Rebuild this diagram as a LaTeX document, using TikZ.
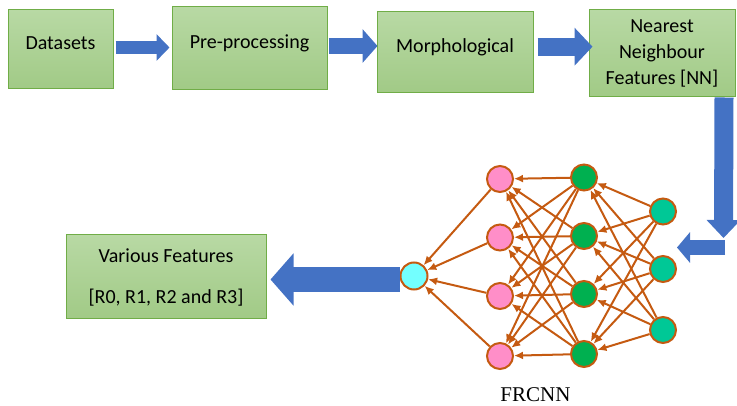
\documentclass[tikz,border=0pt]{standalone}
\usepackage{fontspec}
\setmainfont{Carlito}
\newfontfamily\capfont{Liberation Serif}
\usepackage{tikz}
\usetikzlibrary{arrows.meta,positioning,calc}
\definecolor{bxt}{HTML}{B8D9A4}
\definecolor{bxb}{HTML}{A1CA86}
\definecolor{bd}{HTML}{70AD47}
\definecolor{ar}{HTML}{4472C4}
\definecolor{ed}{HTML}{C55A11}
\definecolor{pk}{HTML}{FF8EC8}
\definecolor{gn}{HTML}{00B050}
\definecolor{tl}{HTML}{00C896}
\definecolor{cy}{HTML}{73FFFF}
\newcommand{\Bx}{\fontsize{20}{26}\selectfont}
\tikzset{
  box/.style={draw=bd, line width=1pt, top color=bxt, bottom color=bxb,
    font=\Bx, align=center, inner sep=0pt},
  oneline/.style={text height=14pt, text depth=14pt},
  barrow/.style n args={3}{draw=ar, line width=#1, -{Triangle[width=#2,length=#3]}},
  unit/.style={circle, draw=ed, line width=2pt, minimum size=26pt, inner sep=0pt},
  wire/.style={draw=ed, line width=2pt, -{Latex[length=9pt,width=8pt]}}
}

\begin{document}
\begin{tikzpicture}[x=1pt,y=1pt]
  \useasboundingbox (0,0) rectangle (737,-406);
  % pipeline boxes
  \node[box, oneline, minimum width=105pt, minimum height=79pt] (ds) at (60.5,-49.5) {Datasets};
  \node[box, oneline, minimum width=155pt, minimum height=83pt] (pp) at (249.5,-48.5) {Pre-processing};
  \node[box, oneline, minimum width=156pt, minimum height=81pt] (mp) at (455,-52.5) {Morphological};
  \node[box, minimum width=146pt, minimum height=87pt] (nn) at (662,-53.5) {Nearest\\Neighbour\\Features [NN]};
  \node[box, minimum width=200pt, minimum height=84pt] (vf) at (166,-277) {Various Features\\[15pt][R0, R1, R2 and R3]};

  \draw[barrow={13pt}{26pt}{13pt}] ($(ds.east)+(2,2)$) -- ($(pp.west)+(-2,1)$);
  \draw[barrow={16pt}{33pt}{15pt}] ($(pp.east)+(1,2.5)$) -- ($(mp.west)+(1,6.5)$);
  \draw[barrow={18pt}{37pt}{18pt}] ($(mp.east)+(4,5.8)$) -- ($(nn.west)+(4,6.8)$);

  % network
  \node[unit, fill=cy, minimum size=27pt] (out) at (414,-276) {};
  \foreach \y [count=\i] in {179,237.5,296,356}
    \node[unit, fill=pk] (p\i) at (500,-\y) {};
  \foreach \y [count=\i] in {177.5,236,294,354}
    \node[unit, fill=gn] (g\i) at (584,-\y) {};
  \foreach \y [count=\i] in {211.5,269,330}
    \node[unit, fill=tl] (t\i) at (663,-\y) {};
  \foreach \i in {1,2,3}
    \foreach \j in {1,...,4}
      \draw[wire] (t\i) -- (g\j);
  \foreach \i in {1,...,4}
    \foreach \j in {1,...,4}
      \draw[wire] (g\i) -- (p\j);
  \foreach \j in {1,...,4}
    \draw[wire] (p\j) -- (out);
  \node[font=\capfont\fontsize{21}{24}\selectfont] (cap) at (535.5,-395) {FRCNN};

  % bent arrow into the network
  \coordinate (dn) at (723.5,-238);
  \coordinate (bend) at (725,-247.5);
  \coordinate (netin) at (677,-247.5);
  \draw[barrow={15pt}{30pt}{13pt}] (bend) -- (netin);
  \draw[barrow={19pt}{33pt}{18pt}] ($(nn.south east)+(-11.5,0)$) -- (dn);

  \draw[barrow={25pt}{51pt}{23pt}] ($(out.west)+(0,-3.5)$) -- ($(vf.east)+(4,-2.5)$);
\end{tikzpicture}
\end{document}
